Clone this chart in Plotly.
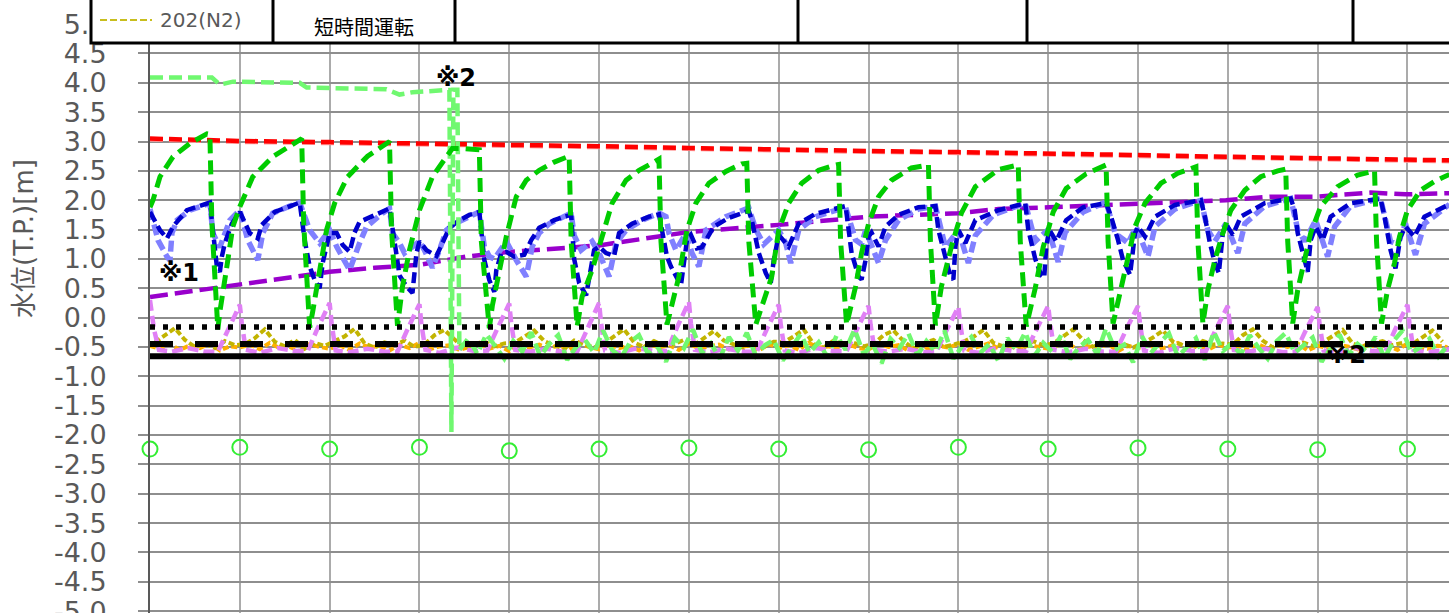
import plotly.graph_objects as go

# ------------------------------------------------------------------
# Axis set-up (elapsed time on x, one grid cell = 90 time units)
# ------------------------------------------------------------------
y_tick_labels = ["-5.0", "-4.5", "-4.0", "-3.5", "-3.0", "-2.5", "-2.0", "-1.5",
                 "-1.0", "-0.5", "0.0", "0.5", "1.0", "1.5", "2.0", "2.5",
                 "3.0", "3.5", "4.0", "4.5", "5.0"]
x_grid_step = 90
x_range = [0, 1301.6]
y_range = [-5.032, 5.411]

# Reference levels (black lines)
level_dotted = -0.16
level_dashed = -0.45
level_solid = -0.66
level_t = [0, 1302]

# Red: upper management level
red_t = [0, 90, 180, 270, 360, 450, 540, 630, 720, 810, 900, 990, 1080, 1170, 1260, 1302]
red_v = [3.05, 3.01, 2.99, 2.97, 2.95, 2.92, 2.89, 2.86, 2.84, 2.82, 2.80, 2.77, 2.74, 2.72, 2.69, 2.68]

# Purple: slowly rising level
purple_t = [0, 45, 90, 135, 180, 225, 270, 317, 360, 450, 540, 630, 720, 810, 850, 900,
            990, 1078, 1123, 1168, 1223, 1258, 1302]
purple_v = [0.35, 0.46, 0.57, 0.68, 0.78, 0.85, 0.90, 1.04, 1.12, 1.23, 1.46, 1.58, 1.72,
            1.78, 1.85, 1.88, 1.95, 2.00, 2.06, 2.06, 2.13, 2.10, 2.12]

# Green: well level during short-time pumping cycles
green_t = [0, 3, 10, 23, 40, 57,
           60, 62, 68, 70, 77, 83, 90, 103, 123, 143, 150,
           152, 154, 160, 163, 170, 177, 185, 198, 218, 235, 240,
           242, 248, 253, 260, 270, 283, 297, 303, 315, 330,
           332, 340, 343, 350, 357, 367, 377, 390, 405, 420,
           422, 428, 433, 443, 453, 463, 477, 490, 505, 510,
           512, 518, 530, 538, 547, 560, 577, 593, 598,
           600, 607, 623, 630, 640, 653, 670, 687, 690,
           692, 698, 707, 713, 720, 730, 743, 763, 780,
           782, 787, 793, 803, 813, 827, 850, 870,
           872, 878, 887, 895, 905, 918, 938, 958,
           960, 965, 973, 980, 987, 997, 1013, 1030, 1048,
           1050, 1055, 1060, 1067, 1075, 1083, 1097, 1113, 1130, 1138,
           1140, 1145, 1150, 1157, 1163, 1173, 1190, 1210, 1227,
           1229, 1234, 1240, 1247, 1252, 1260, 1273, 1287, 1302]
green_v = [1.88, 2.0, 2.4, 2.74, 2.97, 3.13,
           3.12, 1.6, -0.2, 0.1, 0.87, 1.55, 1.89, 2.4, 2.74, 2.97, 3.04,
           3.05, 1.6, -0.17, 0.1, 0.8, 1.5, 1.95, 2.4, 2.75, 2.95, 3.0,
           1.5, -0.14, 0.53, 1.15, 1.83, 2.4, 2.74, 2.88, 2.88, 2.86,
           1.3, -0.18, 0.2, 0.81, 1.38, 2.06, 2.34, 2.51, 2.65, 2.75,
           1.3, -0.15, 0.36, 0.81, 1.38, 1.95, 2.34, 2.51, 2.65, 2.7,
           1.3, -0.12, 0.7, 1.49, 1.95, 2.29, 2.49, 2.62, 2.63,
           1.3, -0.12, 0.7, 1.49, 1.95, 2.29, 2.51, 2.6, 2.61,
           1.3, -0.12, 0.53, 1.1, 1.6, 2.06, 2.34, 2.55, 2.6,
           1.3, -0.13, 0.53, 1.21, 1.78, 2.23, 2.52, 2.6,
           1.3, -0.15, 0.5, 1.2, 1.8, 2.2, 2.45, 2.6,
           1.3, -0.1, 0.47, 0.98, 1.55, 1.95, 2.29, 2.46, 2.57,
           1.3, -0.1, 0.47, 0.98, 1.44, 1.83, 2.17, 2.4, 2.5, 2.53,
           1.3, -0.1, 0.47, 0.98, 1.44, 1.89, 2.23, 2.43, 2.5,
           1.3, -0.1, 0.47, 0.93, 1.38, 1.83, 2.17, 2.32, 2.44]

# Dark blue
blue_t = [0, 10, 17, 23, 37, 57, 60,
          63, 67, 70, 72, 75, 82, 90, 95, 100, 108, 112, 125, 140, 150,
          155, 160, 165, 170, 173, 177, 180, 187, 193, 200, 205, 210, 230, 240,
          245, 250, 257, 263, 267, 270, 277, 287, 293, 300, 310, 320, 330,
          332, 335, 340, 345, 347, 352, 357, 365, 375, 382, 390, 405, 415, 422,
          425, 430, 437, 445, 450, 457, 465, 470, 483, 500, 510,
          512, 518, 522, 530, 532, 535, 538, 542, 548, 553, 565, 580, 600,
          603, 610, 617, 622, 625, 630, 640, 650, 667, 697,
          700, 703, 710, 713, 717, 720, 723, 730, 737, 750, 770, 787,
          790, 797, 802, 805, 807, 810, 817, 827, 850, 877,
          880, 887, 893, 896, 898, 901, 908, 918, 935, 958,
          963, 970, 975, 982, 987, 990, 997, 1007, 1027, 1053,
          1057, 1062, 1067, 1071, 1075, 1078, 1085, 1093, 1117, 1143,
          1147, 1150, 1157, 1160, 1163, 1168, 1175, 1183, 1203, 1233,
          1237, 1243, 1248, 1253, 1258, 1267, 1277, 1302]
blue_v = [1.8, 1.49, 1.35, 1.55, 1.83, 1.95, 1.96,
          1.49, 0.87, 0.78, 1.04, 1.27, 1.6, 1.8, 1.6, 1.44, 1.35, 1.58, 1.8, 1.9, 1.96,
          1.32, 0.87, 0.64, 0.5, 0.93, 1.27, 1.44, 1.44, 1.24, 1.12, 1.45, 1.63, 1.78, 1.86,
          1.3, 0.72, 0.53, 0.42, 1.1, 1.3, 1.15, 1.05, 1.27, 1.53, 1.66, 1.75, 1.8,
          1.38, 0.98, 0.64, 0.44, 0.81, 1.1, 1.12, 1.04, 1.07, 1.32, 1.53, 1.66, 1.72, 1.75,
          1.0, 0.59, 0.38, 1.15, 1.21, 1.1, 1.05, 1.44, 1.6, 1.72, 1.76,
          1.6, 1.04, 0.87, 0.59, 0.55, 0.93, 1.32, 1.41, 1.18, 1.2, 1.55, 1.7, 1.82,
          1.66, 1.1, 0.76, 0.59, 0.98, 1.41, 1.21, 1.6, 1.77, 1.9,
          1.5, 1.1, 0.7, 0.65, 0.98, 1.38, 1.45, 1.21, 1.55, 1.75, 1.88, 1.9,
          1.49, 1.0, 0.7, 0.65, 1.21, 1.49, 1.27, 1.66, 1.83, 1.95,
          1.5, 1.0, 0.72, 0.68, 1.2, 1.5, 1.3, 1.66, 1.88, 1.95,
          1.72, 1.32, 0.98, 0.73, 1.44, 1.55, 1.38, 1.72, 1.92, 2.0,
          1.72, 1.27, 0.93, 0.76, 1.44, 1.6, 1.41, 1.72, 1.95, 2.03,
          1.83, 1.44, 0.98, 0.78, 1.32, 1.55, 1.32, 1.72, 1.95, 2.03,
          1.72, 1.15, 0.84, 1.38, 1.55, 1.38, 1.72, 1.93]

# Light blue
lblue_t = [0, 2, 8, 17, 20, 22, 27, 40, 60,
           63, 70, 80, 90, 98, 107, 108, 113, 123, 140, 150,
           160, 170, 178, 180, 187, 197, 200, 210, 217, 233, 240,
           243, 250, 255, 262, 270, 275, 283, 290, 293, 297, 305, 315, 330,
           335, 340, 345, 357, 367, 377, 383, 390, 400, 413, 422,
           425, 432, 443, 450, 460, 467, 477, 493, 510,
           517, 520, 527, 537, 543, 550, 557, 577, 600,
           607, 615, 630, 637, 642, 650, 667, 697,
           707, 713, 717, 730, 737, 750, 770, 787,
           797, 810, 820, 827, 845, 877,
           887, 900, 910, 917, 935, 958,
           967, 980, 988, 1000, 1007, 1027, 1053,
           1060, 1067, 1078, 1090, 1097, 1117, 1143,
           1150, 1157, 1168, 1180, 1187, 1203, 1233,
           1243, 1250, 1258, 1268, 1277, 1302]
lblue_v = [1.85, 1.72, 1.32, 1.04, 0.98, 1.44, 1.66, 1.83, 1.95,
           1.44, 1.2, 1.66, 1.83, 1.32, 1.04, 0.98, 1.44, 1.78, 1.9, 1.96,
           1.49, 1.27, 1.45, 1.49, 1.21, 0.93, 0.81, 1.27, 1.55, 1.78, 1.86,
           1.44, 1.27, 1.1, 1.2, 1.3, 1.15, 0.85, 1.15, 1.32, 1.49, 1.6, 1.69, 1.8,
           1.21, 1.04, 1.0, 1.3, 0.98, 0.7, 1.21, 1.44, 1.6, 1.72, 1.78,
           1.4, 1.15, 1.3, 1.1, 0.7, 1.27, 1.49, 1.66, 1.78,
           1.72, 1.44, 1.15, 1.44, 1.1, 0.87, 1.49, 1.72, 1.87,
           1.5, 1.25, 1.49, 1.27, 0.93, 1.49, 1.72, 1.88,
           1.32, 1.25, 1.49, 0.93, 1.32, 1.66, 1.85, 1.9,
           1.2, 1.49, 0.93, 1.4, 1.75, 1.95,
           1.3, 1.5, 0.95, 1.45, 1.8, 1.97,
           1.44, 1.27, 1.55, 1.04, 1.55, 1.85, 2.0,
           1.49, 1.3, 1.6, 1.1, 1.6, 1.9, 2.03,
           1.5, 1.3, 1.66, 1.04, 1.55, 1.9, 2.03,
           1.3, 1.25, 1.6, 1.07, 1.6, 1.93]

# Violet: level with a spike once per cycle
violet_t = [0, 4, 9, 22, 38, 55,
            68, 78, 90, 92, 96, 110, 128, 145,
            158, 168, 180, 182, 186, 200, 218, 235,
            248, 258, 270, 272, 276, 290, 308, 325,
            338, 348, 360, 362, 366, 380, 398, 415,
            428, 438, 450, 452, 456, 470, 488, 505,
            518, 528, 540, 542, 546, 560, 578, 595,
            608, 618, 630, 632, 636, 650, 668, 685,
            698, 708, 720, 722, 726, 740, 758, 775,
            788, 798, 810, 812, 816, 830, 848, 865,
            878, 888, 900, 902, 906, 920, 938, 955,
            968, 978, 990, 992, 996, 1010, 1028, 1045,
            1058, 1068, 1080, 1082, 1086, 1100, 1118, 1135,
            1148, 1158, 1170, 1172, 1176, 1190, 1208, 1225,
            1238, 1248, 1260, 1262, 1266, 1280, 1302]
violet_v = [0.3, -0.2, -0.55, -0.58, -0.52, -0.58,
            -0.58, -0.2, 0.22, -0.1, -0.55, -0.6, -0.52, -0.57,
            -0.57, -0.18, 0.25, -0.1, -0.56, -0.59, -0.53, -0.58,
            -0.58, -0.2, 0.23, -0.12, -0.55, -0.6, -0.51, -0.57,
            -0.56, -0.19, 0.24, -0.1, -0.55, -0.58, -0.53, -0.59,
            -0.58, -0.2, 0.25, -0.1, -0.56, -0.6, -0.52, -0.57,
            -0.57, -0.17, 0.27, -0.1, -0.55, -0.59, -0.53, -0.58,
            -0.58, -0.2, 0.22, -0.12, -0.56, -0.6, -0.52, -0.57,
            -0.57, -0.21, 0.2, -0.12, -0.55, -0.58, -0.53, -0.59,
            -0.58, -0.22, 0.18, -0.12, -0.56, -0.6, -0.52, -0.57,
            -0.57, -0.21, 0.2, -0.1, -0.55, -0.59, -0.53, -0.58,
            -0.58, -0.21, 0.2, -0.1, -0.56, -0.6, -0.52, -0.57,
            -0.57, -0.2, 0.2, -0.12, -0.55, -0.58, -0.53, -0.59,
            -0.58, -0.22, 0.18, -0.12, -0.56, -0.6, -0.52, -0.57,
            -0.57, -0.19, 0.22, -0.1, -0.55, -0.59, -0.54]

# Orange: logged every 10 time units
orange_step = 10
orange_v = [-0.48, -0.53, -0.45, -0.55, -0.47, -0.52, -0.44, -0.56, -0.49, -0.51,
            -0.46, -0.54, -0.43, -0.52, -0.50, -0.57, -0.45, -0.50, -0.53, -0.47,
            -0.55, -0.44, -0.51, -0.48, -0.56, -0.46, -0.52, -0.43, -0.54, -0.49,
            -0.47, -0.55, -0.50, -0.45, -0.53, -0.48, -0.57, -0.44, -0.51, -0.46,
            -0.52, -0.47, -0.55, -0.43, -0.50, -0.54, -0.46, -0.52, -0.48, -0.56,
            -0.45, -0.51, -0.47, -0.55, -0.44, -0.53, -0.49, -0.46, -0.54, -0.50,
            -0.48, -0.56, -0.45, -0.52, -0.47, -0.55, -0.43, -0.51, -0.49, -0.53,
            -0.46, -0.52, -0.54, -0.44, -0.50, -0.47, -0.56, -0.45, -0.53, -0.48,
            -0.51, -0.45, -0.55, -0.49, -0.44, -0.52, -0.47, -0.54, -0.46, -0.50,
            -0.53, -0.47, -0.44, -0.55, -0.49, -0.51, -0.45, -0.57, -0.48, -0.52,
            -0.46, -0.54, -0.50, -0.43, -0.52, -0.48, -0.55, -0.46, -0.51, -0.49,
            -0.55, -0.45, -0.53, -0.47, -0.50, -0.44, -0.56, -0.48, -0.52, -0.46,
            -0.49, -0.54, -0.45, -0.51, -0.47, -0.55, -0.44, -0.50, -0.53, -0.48,
            -0.50]
orange_t = [i * orange_step for i in range(len(orange_v))]

# 202(N2): logged every 10 time units, offset by 5
n2_step = 10
n2_start = 5
n2_v = [-0.42, -0.30, -0.18, -0.38, -0.50, -0.44, -0.52, -0.40, -0.47,
        -0.45, -0.35, -0.20, -0.41, -0.49, -0.38, -0.53, -0.43, -0.48,
        -0.40, -0.32, -0.19, -0.44, -0.51, -0.42, -0.47, -0.39, -0.50,
        -0.46, -0.30, -0.21, -0.37, -0.52, -0.45, -0.41, -0.49, -0.44,
        -0.43, -0.33, -0.22, -0.40, -0.48, -0.53, -0.39, -0.46, -0.51,
        -0.44, -0.31, -0.20, -0.42, -0.50, -0.40, -0.48, -0.45, -0.38,
        -0.47, -0.34, -0.23, -0.39, -0.46, -0.52, -0.43, -0.50, -0.41,
        -0.42, -0.32, -0.20, -0.45, -0.51, -0.39, -0.47, -0.43, -0.49,
        -0.45, -0.30, -0.22, -0.40, -0.53, -0.44, -0.38, -0.50, -0.46,
        -0.41, -0.33, -0.21, -0.43, -0.49, -0.46, -0.52, -0.40, -0.47,
        -0.44, -0.31, -0.20, -0.38, -0.50, -0.42, -0.48, -0.45, -0.51,
        -0.43, -0.34, -0.22, -0.41, -0.47, -0.52, -0.40, -0.46, -0.44,
        -0.46, -0.30, -0.20, -0.39, -0.51, -0.43, -0.49, -0.42, -0.48,
        -0.42, -0.32, -0.21, -0.44, -0.50, -0.45, -0.40, -0.47, -0.43,
        -0.45, -0.33, -0.22, -0.41]
n2_t = [n2_start + i * n2_step for i in range(len(n2_v))]

# Light green (※2): head section, then logged every 9 time units
lgreen_head_t = [0, 62, 70, 83, 150, 157, 237, 250, 263, 300, 302, 304, 308]
lgreen_head_v = [4.09, 4.09, 3.97, 4.02, 4.0, 3.92, 3.89, 3.8, 3.84, 3.88, -1.95, 3.88, 3.88]
lgreen_step = 9
lgreen_start = 310
lgreen_v = [-0.55, -0.35, -0.62, -0.28, -0.50, -0.70, -0.40, -0.58, -0.25, -0.66,
            -0.45, -0.30, -0.72, -0.50, -0.38, -0.60, -0.22, -0.55, -0.68, -0.42,
            -0.30, -0.62, -0.48, -0.75, -0.35, -0.52, -0.20, -0.60, -0.44, -0.70,
            -0.33, -0.56, -0.26, -0.65, -0.47, -0.38, -0.73, -0.50, -0.28, -0.60,
            -0.42, -0.68, -0.30, -0.55, -0.20, -0.62, -0.45, -0.78, -0.36, -0.52,
            -0.27, -0.64, -0.40, -0.58, -0.22, -0.70, -0.48, -0.33, -0.60, -0.45,
            -0.74, -0.35, -0.55, -0.25, -0.66, -0.43, -0.58, -0.30, -0.71, -0.50,
            -0.38, -0.62, -0.18, -0.55, -0.46, -0.76, -0.32, -0.60, -0.42, -0.27,
            -0.67, -0.50, -0.35, -0.72, -0.24, -0.57, -0.44, -0.63, -0.30, -0.52,
            -0.70, -0.40, -0.26, -0.60, -0.48, -0.34, -0.75, -0.52, -0.29, -0.64,
            -0.45, -0.58, -0.33, -0.69, -0.40, -0.22, -0.60, -0.50, -0.36, -0.66,
            -0.48]
lgreen_t = lgreen_head_t + [lgreen_start + i * lgreen_step for i in range(len(lgreen_v))]
lgreen_all_v = lgreen_head_v + lgreen_v

# Open circles once per grid cell
circle_t = [0, 90, 180, 270, 360, 450, 540, 630, 720, 810, 900, 990, 1080, 1170, 1260]
circle_v = [-2.24, -2.21, -2.24, -2.21, -2.27, -2.24, -2.22, -2.24, -2.25, -2.21,
            -2.24, -2.22, -2.24, -2.25, -2.24]

# ------------------------------------------------------------------
FIG_W, FIG_H = 1449, 613
M_L = 150
PLOT_W = FIG_W - M_L
FONT = "DejaVu Sans, Noto Sans CJK JP, sans-serif"
GRAY_TEXT = "#595959"


def px_x(px):
    return (px - M_L) / PLOT_W


def px_y(py):
    return 1 - py / FIG_H


def line(t, v, color, width, dash, name):
    return go.Scatter(x=t, y=v, mode="lines", name=name, hoverinfo="skip",
                      line=dict(color=color, width=width, dash=dash))


fig = go.Figure()
fig.add_trace(line(orange_t, orange_v, "#FFB000", 4, "6px,3px", "orange"))
fig.add_trace(line(n2_t, n2_v, "#C2B400", 4, "6px,3px", "202(N2)"))
fig.add_trace(line(violet_t, violet_v, "#E080F5", 4.5, "11px,5px", "violet"))
fig.add_trace(line(purple_t, purple_v, "#9900CC", 4.5, "18px,7px", "purple"))
fig.add_trace(line(red_t, [v - 0.015 for v in red_v], "#FF9A9A", 4.5, "13px,6px", "red-s"))
fig.add_trace(line(red_t, red_v, "#FF0000", 4.5, "13px,6px", "red"))
fig.add_trace(line(lblue_t, lblue_v, "#8080FF", 5.5, "11px,5px", "light blue"))
fig.add_trace(line(blue_t, blue_v, "#0000CC", 4.5, "11px,5px", "blue"))
fig.add_trace(line(lgreen_t, lgreen_all_v, "#70F870", 4.5, "13px,6px", "light green"))
fig.add_trace(line(green_t, green_v, "#00CC00", 5, "14px,7px", "green"))
fig.add_trace(line(level_t, [level_dotted] * 2, "#000000", 5.5, "5px,8px", "dotted"))
fig.add_trace(line(level_t, [level_dashed] * 2, "#000000", 6, "23px,22px", "dashed"))
fig.add_trace(line(level_t, [level_solid] * 2, "#000000", 6, "solid", "solid"))
fig.add_trace(go.Scatter(x=circle_t, y=circle_v, mode="markers", cliponaxis=False,
                         hoverinfo="skip", name="circles",
                         marker=dict(symbol="circle-open", size=15, color="#33EE33",
                                     line=dict(width=2, color="#33EE33"))))

# Header table with legend entry
shapes = [dict(type="rect", xref="paper", yref="paper", layer="above",
               x0=px_x(91), x1=px_x(1470), y0=px_y(43), y1=px_y(-10),
               line=dict(color="black", width=3), fillcolor="white")]
for xd in [273, 455, 798, 1027, 1353]:
    shapes.append(dict(type="line", xref="paper", yref="paper", layer="above",
                       x0=px_x(xd), x1=px_x(xd), y0=px_y(43), y1=px_y(-10),
                       line=dict(color="black", width=3)))
shapes.append(dict(type="line", xref="paper", yref="paper", layer="above",
                   x0=px_x(100), x1=px_x(152), y0=px_y(20), y1=px_y(20),
                   line=dict(color="#C8BE1E", width=2, dash="7px,3px")))

annotations = [
    dict(text="202(N2)", x=px_x(158), y=px_y(20), xanchor="left", yanchor="middle",
         font=dict(family=FONT, size=20, color=GRAY_TEXT)),
    dict(text="短時間運転", x=px_x(364), y=px_y(28), xanchor="center", yanchor="middle",
         font=dict(family=FONT, size=20, color="black")),
    dict(text="水位(T.P.)[m]", x=px_x(24), y=px_y(238), textangle=-90,
         xanchor="center", yanchor="middle",
         font=dict(family=FONT, size=26, color=GRAY_TEXT)),
    dict(text="<b>※1</b>", x=px_x(179), y=px_y(273), xanchor="center", yanchor="middle",
         font=dict(family=FONT, size=24, color="black")),
    dict(text="<b>※2</b>", x=px_x(456), y=px_y(78), xanchor="center", yanchor="middle",
         font=dict(family=FONT, size=24, color="black")),
    dict(text="<b>※2</b>", x=px_x(1346), y=px_y(355), xanchor="center", yanchor="middle",
         font=dict(family=FONT, size=24, color="black")),
]
for a in annotations:
    a.update(xref="paper", yref="paper", showarrow=False)

fig.update_layout(
    width=FIG_W, height=FIG_H, autosize=False,
    margin=dict(l=M_L, r=0, t=0, b=0, pad=0, autoexpand=False),
    paper_bgcolor="white", plot_bgcolor="white",
    showlegend=False, shapes=shapes, annotations=annotations,
    xaxis=dict(range=x_range, tick0=0, dtick=x_grid_step, showticklabels=False,
               showgrid=True, gridcolor="#ABABAB", gridwidth=2, zeroline=False,
               showline=False, ticks="", automargin=False),
    yaxis=dict(range=y_range, tickmode="array",
               tickvals=[float(s) for s in y_tick_labels], ticktext=y_tick_labels,
               showgrid=True, gridcolor="#8E8E8E", gridwidth=2, zeroline=False,
               showline=True, linecolor="#595959", linewidth=2,
               ticks="outside", ticklen=10, tickwidth=2, tickcolor="#8E8E8E",
               ticklabelstandoff=26, ticklabeloverflow="allow", automargin=False,
               tickfont=dict(family=FONT, size=27, color=GRAY_TEXT)),
)

fig.write_html("out.html")
